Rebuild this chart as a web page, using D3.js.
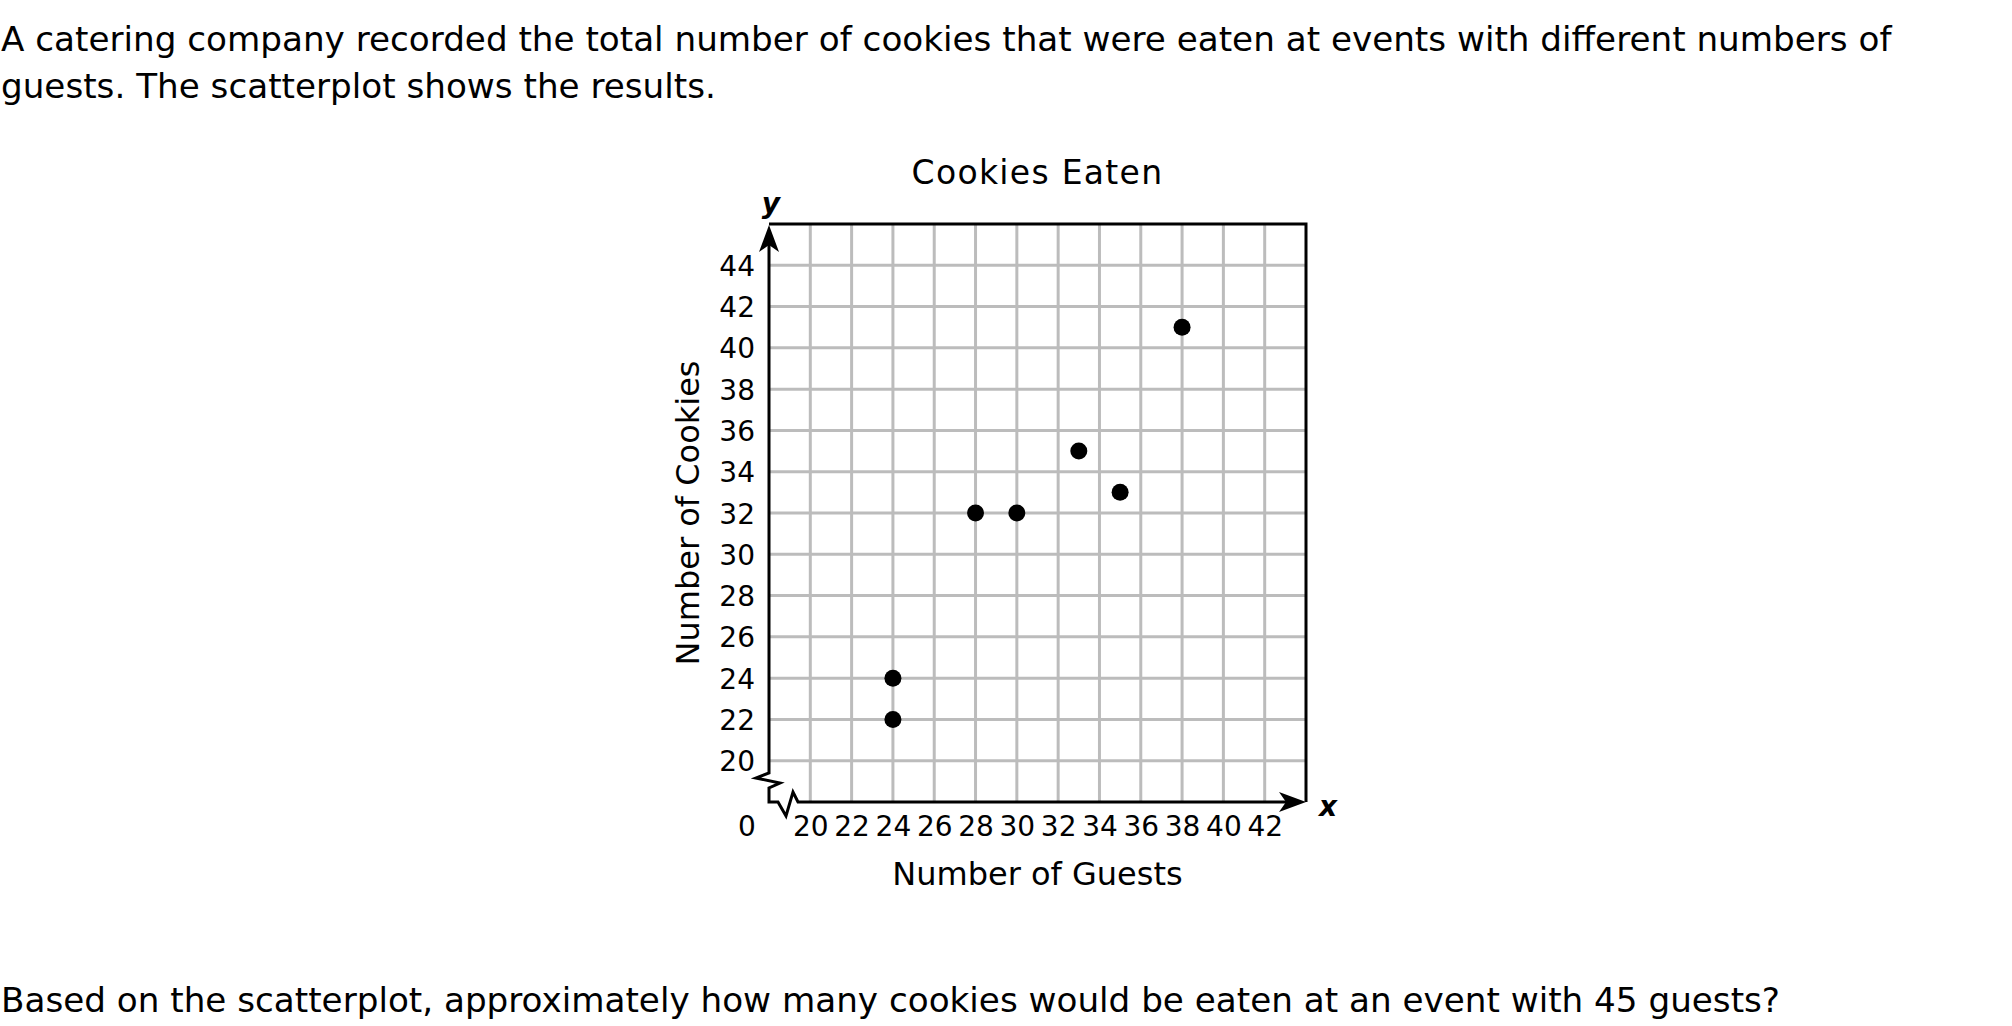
<!DOCTYPE html>
<meta charset='utf-8'>
<style>
  body { margin:0; background:#fff; }
  text { font-family:'DejaVu Sans', Verdana, sans-serif; fill:#000; }
  .grid line { stroke:#bcbcbc; stroke-width:3px; }
  .tick text { font-size:28px; }
</style>
<body>
  <script src='https://d3js.org/d3.v7.min.js' charset='utf-8'></script>
  <script>
    // data
    var guests = [24, 24, 28, 30, 33, 35, 38];
    var cookies = [22, 24, 32, 32, 35, 33, 41];
    var xTicks = [20, 22, 24, 26, 28, 30, 32, 34, 36, 38, 40, 42];
    var yTicks = [20, 22, 24, 26, 28, 30, 32, 34, 36, 38, 40, 42, 44];
    var prompt = ['A catering company recorded the total number of cookies that were eaten at events with different numbers of',
                  'guests. The scatterplot shows the results.'];
    var question = 'Based on the scatterplot, approximately how many cookies would be eaten at an event with 45 guests?';

    var width = 2012;
    var height = 1026;

    var svg = d3.select('body').append('svg')
      .attr('width',width)
      .attr('height',height);

    var x = d3.scaleLinear().domain([18,44]).range([769,1306]);
    var y = d3.scaleLinear().domain([18,46]).range([802,224]);
    var ox = x(18), oy = y(18);

    // question text ---------------------------------------------------------
    svg.selectAll('.prompt').data(prompt).enter().append('text')
      .attr('class','prompt')
      .attr('x',1)
      .attr('y',function(d,i) { return 51 + i*47; })
      .style('font-size','34.2px')
      .text(function(d) { return d; });

    svg.append('text')
      .attr('x',1)
      .attr('y',1012)
      .style('font-size','34.2px')
      .text(question);

    // grid ------------------------------------------------------------------
    var grid = svg.append('g').attr('class','grid');
    grid.selectAll('.v').data(xTicks).enter().append('line')
      .attr('x1',function(d) { return x(d); })
      .attr('x2',function(d) { return x(d); })
      .attr('y1',y(46))
      .attr('y2',oy);
    grid.selectAll('.h').data(yTicks).enter().append('line')
      .attr('x1',ox)
      .attr('x2',x(44))
      .attr('y1',function(d) { return y(d); })
      .attr('y2',function(d) { return y(d); });

    // axis labels via d3 axes, no lines
    var xAxis = svg.append('g')
      .attr('transform','translate(0,' + oy + ')')
      .call(d3.axisBottom(x).tickValues(xTicks).tickSize(0).tickPadding(14));
    var yAxis = svg.append('g')
      .attr('transform','translate(' + ox + ',0)')
      .call(d3.axisLeft(y).tickValues(yTicks).tickSize(0).tickPadding(14));
    svg.selectAll('.domain').remove();
    svg.selectAll('.tick text').attr('fill','#000').style('font-family',"'DejaVu Sans', Verdana, sans-serif");
    yAxis.selectAll('.tick text').attr('dy','0.36em');

    svg.append('text')
      .attr('x',ox - 22)
      .attr('y',oy + 34)
      .attr('text-anchor','middle')
      .style('font-size','28px')
      .text('0');

    // border + axes with breaks ---------------------------------------------
    svg.append('path')
      .attr('d','M' + ox + ',' + y(46) + 'H' + x(44) + 'V' + oy)
      .attr('fill','none')
      .attr('stroke','#000')
      .attr('stroke-width',3);

    var brk = [[0,-29],[-13,-24],[11,-19],[0,-14],[0,0],[9,0],[17,14],[24,-10],[29,0]];
    var axisPts = [[ox, y(46) + 20]]
      .concat(brk.map(function(p) { return [ox + p[0], oy + p[1]]; }))
      .concat([[x(44) - 20, oy]]);
    svg.append('path')
      .attr('d',d3.line()(axisPts))
      .attr('fill','none')
      .attr('stroke','#000')
      .attr('stroke-width',3)
      .attr('stroke-linejoin','miter');

    // arrow heads
    var tx = x(44), ty = y(46) + 1;
    svg.append('path')
      .attr('d','M' + ox + ',' + ty + 'L' + (ox - 10) + ',' + (ty + 27) + 'L' + ox + ',' + (ty + 20) + 'L' + (ox + 10) + ',' + (ty + 27) + 'Z')
      .attr('fill','#000');
    svg.append('path')
      .attr('d','M' + tx + ',' + oy + 'L' + (tx - 27) + ',' + (oy - 10) + 'L' + (tx - 20) + ',' + oy + 'L' + (tx - 27) + ',' + (oy + 10) + 'Z')
      .attr('fill','#000');

    svg.append('text')
      .attr('x',ox + 2)
      .attr('y',y(46) - 11)
      .attr('text-anchor','middle')
      .style('font-size','28px')
      .style('font-weight','bold')
      .style('font-style','italic')
      .text('y');
    svg.append('text')
      .attr('x',x(44) + 22)
      .attr('y',oy + 14)
      .attr('text-anchor','middle')
      .style('font-size','28px')
      .style('font-weight','bold')
      .style('font-style','italic')
      .text('x');

    // titles ------------------------------------------------------------------
    var cx = (ox + x(44)) / 2;
    svg.append('text')
      .attr('x',cx)
      .attr('y',184)
      .attr('text-anchor','middle')
      .style('font-size','33px')
      .style('letter-spacing','1.3px')
      .text('Cookies Eaten');
    svg.append('text')
      .attr('x',cx)
      .attr('y',885)
      .attr('text-anchor','middle')
      .style('font-size','32px')
      .text('Number of Guests');
    svg.append('text')
      .attr('transform','translate(699,' + ((oy + y(46)) / 2) + ') rotate(-90)')
      .attr('text-anchor','middle')
      .style('font-size','32px')
      .text('Number of Cookies');

    // points ------------------------------------------------------------------
    svg.selectAll('.dot').data(guests).enter().append('circle')
      .attr('class','dot')
      .attr('cx',function(d) { return x(d); })
      .attr('cy',function(d,i) { return y(cookies[i]); })
      .attr('r',8.5)
      .attr('fill','#000');
  </script>
</body>
